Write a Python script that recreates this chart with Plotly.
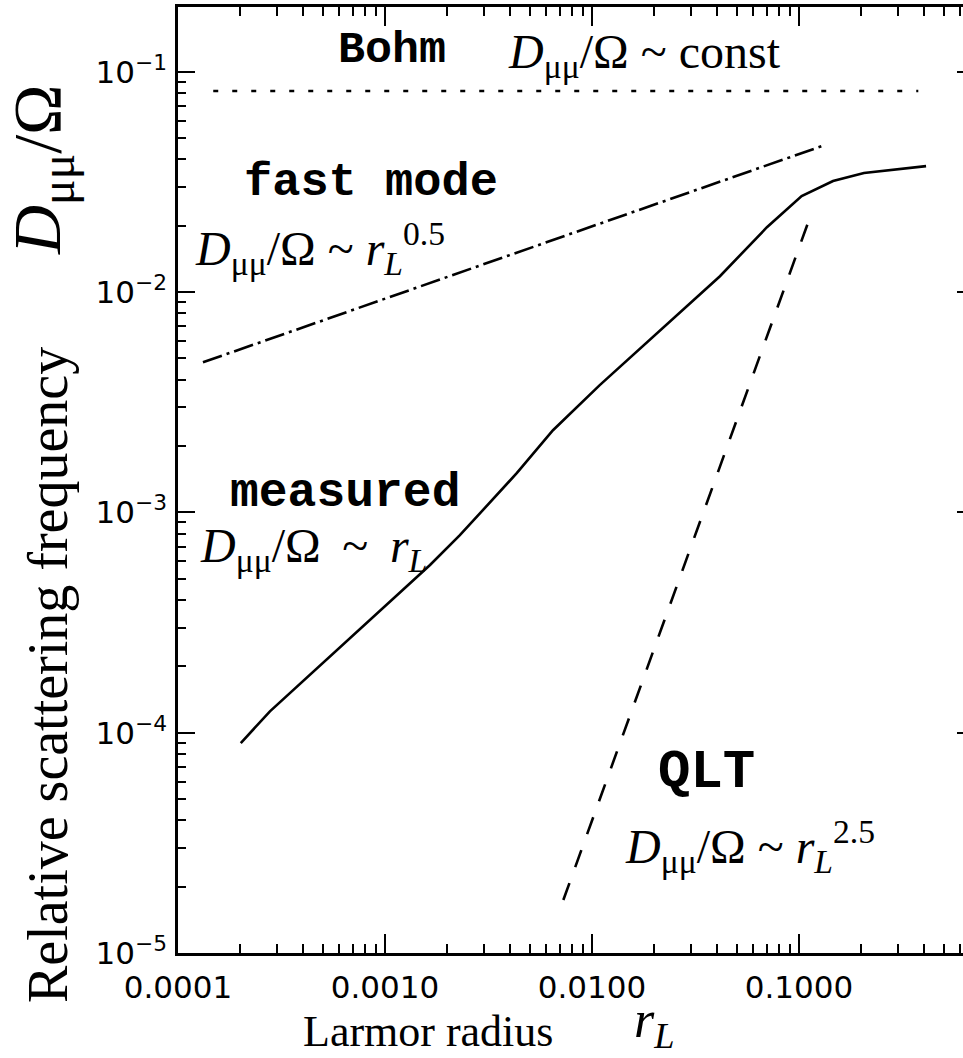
import plotly.graph_objects as go

# ---- data ----
measured_x = [2.01e-4, 2.78e-4, 1.65e-3, 2.30e-3, 4.34e-3, 6.48e-3, 1.09e-2,
              4.15e-2, 7.0e-2, 0.103, 0.146, 0.206, 0.411]
measured_y = [8.97e-5, 1.25e-4, 5.77e-4, 7.88e-4, 1.51e-3, 2.36e-3, 3.78e-3,
              1.18e-2, 1.97e-2, 2.73e-2, 3.19e-2, 3.47e-2, 3.73e-2]
fast_x = [1.32e-4, 0.129]
fast_y = [4.80e-3, 4.60e-2]
qlt_x = [7.27e-3, 0.1105]
qlt_y = [1.74e-5, 2.06e-2]
bohm_x = [1.48e-4, 0.377]
bohm_y = [0.0818, 0.0818]

x_tick_vals = [1e-4, 1e-3, 1e-2, 1e-1]
x_tick_text = ["0.0001", "0.0010", "0.0100", "0.1000"]
y_tick_vals = [1e-5, 1e-4, 1e-3, 1e-2, 1e-1]
y_tick_text = ["10<sup>\u22125</sup>", "10<sup>\u22124</sup>", "10<sup>\u22123</sup>",
               "10<sup>\u22122</sup>", "10<sup>\u22121</sup>"]

W, H = 963, 1058
L, R, T, B = 178, 0, 7, 105
PW = W - L - R
PH = H - T - B
X_RANGE = [-4, -0.2077]
Y_RANGE = [-5, -0.706]

def px(x):
    return (x - L) / PW

def py(y):
    return (H - B - y) / PH

fig = go.Figure()
LW = 2.6
fig.add_trace(go.Scatter(x=bohm_x, y=bohm_y, mode="lines",
                         line=dict(color="black", width=LW, dash="5px,14px")))
fig.add_trace(go.Scatter(x=fast_x, y=fast_y, mode="lines",
                         line=dict(color="black", width=LW, dash="20px,5px,3px,5px")))
fig.add_trace(go.Scatter(x=qlt_x, y=qlt_y, mode="lines",
                         line=dict(color="black", width=LW, dash="18px,17px")))
fig.add_trace(go.Scatter(x=measured_x, y=measured_y, mode="lines",
                         line=dict(color="black", width=LW)))
# invisible trace to carry the right-hand tick axis
fig.add_trace(go.Scatter(x=[1e-4], y=[1e-5], yaxis="y2", mode="markers",
                         marker=dict(opacity=0), hoverinfo="skip"))

tickfont = dict(family="DejaVu Sans, Arial, sans-serif", size=31, color="black")
fig.update_layout(
    width=W, height=H, showlegend=False,
    paper_bgcolor="white", plot_bgcolor="white",
    margin=dict(l=L, r=R, t=T, b=B, pad=0),
    xaxis=dict(type="log", range=X_RANGE, showgrid=False, zeroline=False,
               showline=True, linecolor="black", linewidth=2.6, mirror="ticks",
               ticks="inside", ticklen=19, tickwidth=2.4, tickcolor="black",
               tickmode="array", tickvals=x_tick_vals, ticktext=x_tick_text,
               tickfont=tickfont, ticklabelstandoff=5,
               minor=dict(ticks="inside", ticklen=9, tickwidth=2.2, tickcolor="black",
                          dtick="D1", showgrid=False)),
    yaxis=dict(type="log", range=Y_RANGE, showgrid=False, zeroline=False,
               showline=True, linecolor="black", linewidth=2.6, mirror=False,
               ticks="inside", ticklen=17, tickwidth=2.4, tickcolor="black",
               tickmode="array", tickvals=y_tick_vals, ticktext=y_tick_text,
               tickfont=tickfont, ticklabelstandoff=2,
               minor=dict(ticks="inside", ticklen=8, tickwidth=2.2, tickcolor="black",
                          dtick="D1", showgrid=False)),
    yaxis2=dict(type="log", range=Y_RANGE, overlaying="y", side="right",
                showgrid=False, zeroline=False, showline=False,
                ticks="inside", ticklen=6, tickwidth=2.4, tickcolor="black",
                tickmode="array", tickvals=y_tick_vals, showticklabels=False),
)

mono = "Liberation Mono, Courier New, monospace"
serif = "Liberation Serif, Times New Roman, serif"

def ann(text, x, y, size, family, angle=0, bold=False, yanchor="middle"):
    t = f"<b>{text}</b>" if bold else text
    fig.add_annotation(text=t, x=px(x), y=py(y), xref="paper", yref="paper",
                       showarrow=False, xanchor="center", yanchor=yanchor,
                       textangle=angle,
                       font=dict(family=family, size=size, color="black"))

D = "<i>D</i><sub>\u03bc\u03bc</sub>/\u03a9"
ann("Bohm", 392, 51, 45, mono, bold=True)
ann(D + " ~ const", 644, 55, 48, serif)
ann("fast mode", 371, 182, 47, mono, bold=True)
ann(D + " ~ <i>r</i><sub><i>L</i></sub><sup>0.5</sup>", 320, 248, 48, serif)
ann("measured", 345, 493, 48, mono, bold=True)
ann(D + "\u2009 ~ \u2009<i>r</i><sub><i>L</i></sub>", 313, 549, 48, serif)
ann("QLT", 706, 772, 54, mono, bold=True)
ann(D + " ~ <i>r</i><sub><i>L</i></sub><sup>2.5</sup>", 750, 846, 48, serif)

ann("Relative scattering frequency", 48, 675, 56, serif, angle=-90)
ann(D, 42, 170, 68, serif, angle=-90)
ann("Larmor radius", 428, 1058, 44, serif, yanchor="bottom")
ann("<i>r</i><sub><i>L</i></sub>", 654, 1058, 52, serif, yanchor="bottom")

fig.write_html("out.html", config={"displayModeBar": False},
               post_script="document.body.style.margin='0';document.body.style.overflow='hidden';")
